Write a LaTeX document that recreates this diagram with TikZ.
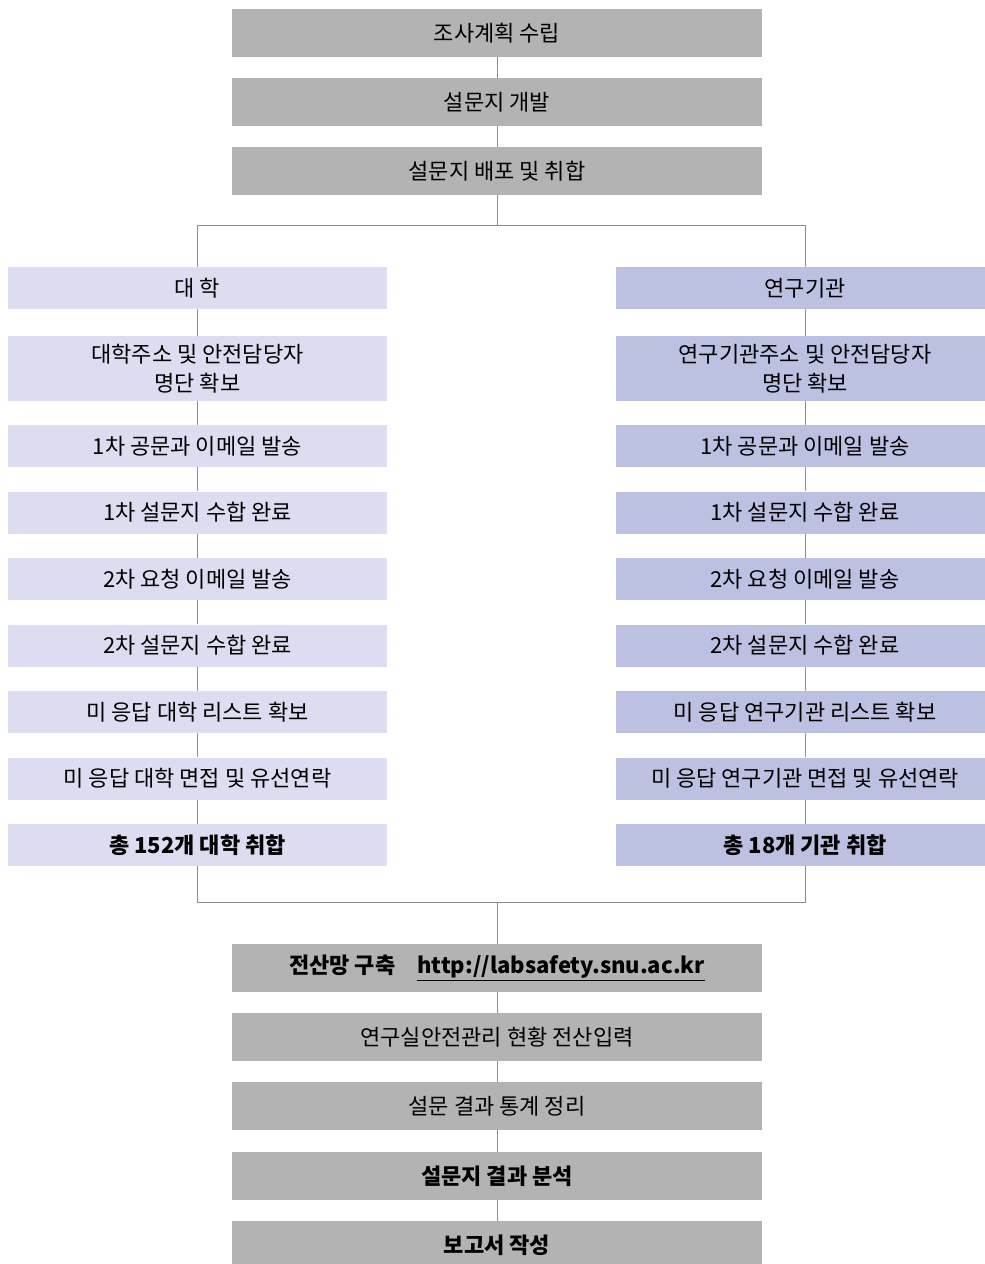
\documentclass[tikz,border=0pt]{standalone}
\usepackage{fontspec}
\usepackage{xcolor}
\usepackage{tikz}
\usetikzlibrary{shapes,arrows,positioning}
\newfontfamily\kr{Noto Sans CJK KR}
\definecolor{stagegray}{HTML}{B3B3B3}
\definecolor{unifill}{HTML}{DCDDF0}
\definecolor{instfill}{HTML}{BDC1E1}
\definecolor{linegray}{HTML}{8C8C8C}
\tikzstyle{stage} = [rectangle, fill=stagegray, minimum width=530pt, minimum height=48pt, inner sep=0pt, align=center, font=\kr\fontsize{22}{29}\selectfont, node distance=69pt]
\tikzstyle{unibox} = [rectangle, fill=unifill, minimum width=379pt, minimum height=42pt, inner sep=0pt, align=center, font=\kr\fontsize{22}{29}\selectfont, node distance=66.5pt]
\tikzstyle{instbox} = [unibox, fill=instfill]
\tikzstyle{line} = [draw, linegray, line width=0.9pt]

\begin{document}
\begin{tikzpicture}
    \useasboundingbox (0pt,0pt) rectangle (985pt,-1264pt);
    % common start
    \node [stage] (plan) at (497pt,-33pt) {조사계획 수립};
    \node [stage, below of=plan] (develop) {설문지 개발};
    \node [stage, below of=develop] (spread) {설문지 배포 및 취합};
    \coordinate (split) at (497pt,-225pt);

    % universities
    \node [unibox] (uni) at (197.5pt,-288pt) {대 학};
    \node [unibox, below of=uni, node distance=80.5pt, minimum height=65pt] (unilist) {대학주소 및 안전담당자\\명단 확보};
    \node [unibox, below of=unilist, node distance=77.5pt] (unimail) {1차 공문과 이메일 발송};
    \node [unibox, below of=unimail] (unifirst) {1차 설문지 수합 완료};
    \node [unibox, below of=unifirst] (unirequest) {2차 요청 이메일 발송};
    \node [unibox, below of=unirequest] (unisecond) {2차 설문지 수합 완료};
    \node [unibox, below of=unisecond] (unimiss) {미 응답 대학 리스트 확보};
    \node [unibox, below of=unimiss] (unicall) {미 응답 대학 면접 및 유선연락};
    \node [unibox, below of=unicall] (unitotal) {\bfseries 총 152개 대학 취합};

    % research institutes
    \node [instbox] (inst) at (805pt,-288pt) {연구기관};
    \node [instbox, below of=inst, node distance=80.5pt, minimum height=65pt] (instlist) {연구기관주소 및 안전담당자\\명단 확보};
    \node [instbox, below of=instlist, node distance=77.5pt] (instmail) {1차 공문과 이메일 발송};
    \node [instbox, below of=instmail] (instfirst) {1차 설문지 수합 완료};
    \node [instbox, below of=instfirst] (instrequest) {2차 요청 이메일 발송};
    \node [instbox, below of=instrequest] (instsecond) {2차 설문지 수합 완료};
    \node [instbox, below of=instsecond] (instmiss) {미 응답 연구기관 리스트 확보};
    \node [instbox, below of=instmiss] (instcall) {미 응답 연구기관 면접 및 유선연락};
    \node [instbox, below of=instcall] (insttotal) {\bfseries 총 18개 기관 취합};

    % common end
    \coordinate (merge) at (497pt,-902pt);
    \node [stage, below of=merge, node distance=66pt] (network) {\bfseries 전산망 구축\quad\underline{http://labsafety.snu.ac.kr}};
    \node [stage, below of=network] (input) {연구실안전관리 현황 전산입력};
    \node [stage, below of=input] (stats) {설문 결과 통계 정리};
    \node [stage, below of=stats, node distance=70pt] (analysis) {\bfseries 설문지 결과 분석};
    \node [stage, below of=analysis] (report) {\bfseries 보고서 작성};

    \path [line] (plan) -- (develop);
    \path [line] (develop) -- (spread);
    \path [line] (spread) -- (split);
    \path [line] (split) -| (uni);
    \path [line] (split) -| (inst);

    \path [line] (uni) -- (unilist);
    \path [line] (unilist) -- (unimail);
    \path [line] (unimail) -- (unifirst);
    \path [line] (unifirst) -- (unirequest);
    \path [line] (unirequest) -- (unisecond);
    \path [line] (unisecond) -- (unimiss);
    \path [line] (unimiss) -- (unicall);
    \path [line] (unicall) -- (unitotal);

    \path [line] (inst) -- (instlist);
    \path [line] (instlist) -- (instmail);
    \path [line] (instmail) -- (instfirst);
    \path [line] (instfirst) -- (instrequest);
    \path [line] (instrequest) -- (instsecond);
    \path [line] (instsecond) -- (instmiss);
    \path [line] (instmiss) -- (instcall);
    \path [line] (instcall) -- (insttotal);

    \path [line] (unitotal) |- (merge);
    \path [line] (insttotal) |- (merge);
    \path [line] (merge) -- (network);
    \path [line] (network) -- (input);
    \path [line] (input) -- (stats);
    \path [line] (stats) -- (analysis);
    \path [line] (analysis) -- (report);
\end{tikzpicture}
\end{document}
